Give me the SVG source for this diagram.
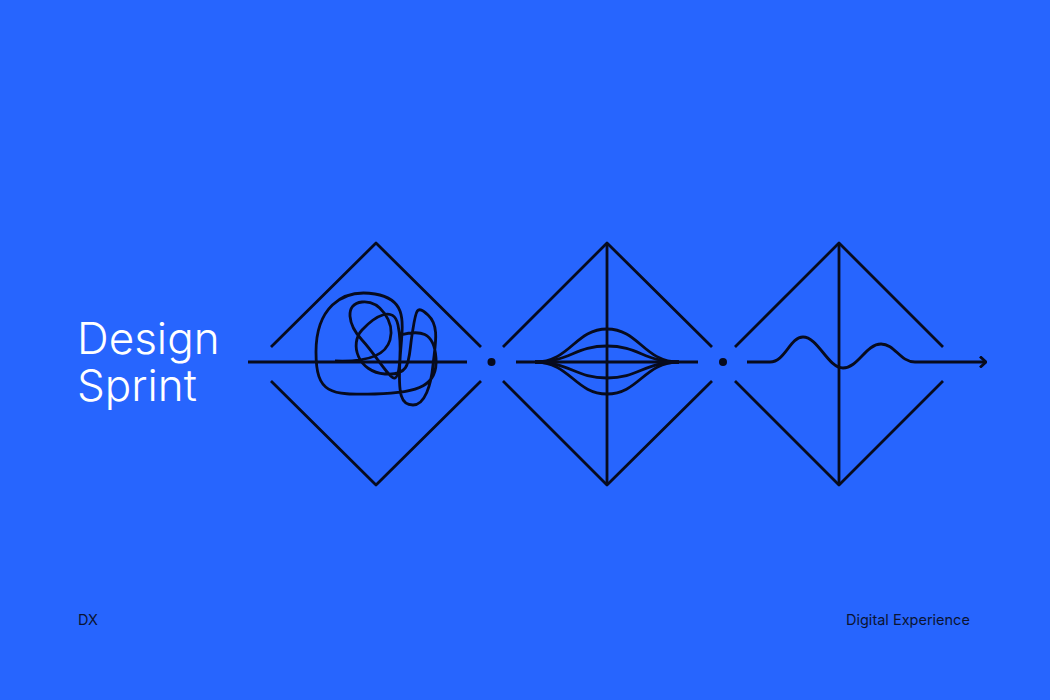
<svg xmlns="http://www.w3.org/2000/svg" width="1050" height="700" viewBox="0 0 1050 700">
  <style>
    .ln{fill:none;stroke:#070b1e;stroke-width:2.8;stroke-linecap:butt;stroke-linejoin:round}
    .dot{fill:#070b1e}
    .title{font-family:Inter,"Liberation Sans",sans-serif;font-weight:300;font-size:44px;fill:#ffffff}
    .foot{font-family:Inter,"Liberation Sans",sans-serif;font-weight:400;font-size:14.5px;fill:#0b1433}
  </style>
  <defs>
    <marker id="arrow" viewBox="0 0 10 12" refX="9" refY="6" markerWidth="10" markerHeight="12" markerUnits="userSpaceOnUse" orient="auto">
      <path d="M3 0.5 L9 6 L3 11.5" fill="none" stroke="#070b1e" stroke-width="2.8"/>
    </marker>
  </defs>
  <rect width="1050" height="700" fill="#2765fe"/>

  <g id="title">
    <text class="title"><tspan x="77" y="354">Design</tspan><tspan x="77" y="401">Sprint</tspan></text>
  </g>

  <g id="diamond1">
    <polyline class="ln" points="271,347 376,243 481,347"/>
    <polyline class="ln" points="271,381 376,485 481,381"/>
    <path class="ln" d="M335 361 C360 362, 385 358, 390 340 S380 300, 362 302 S348 325, 362 340 S390 380, 395 378 S402 345, 398 325 S375 316, 362 330 S358 372, 385 374 S408 360, 412 335 S416 304, 428 315 S435 345, 433 365 S425 405, 413 405 S398 395, 400 360 S410 300, 375 294 S316 310, 316 352 S330 395, 375 394 S438 385, 436 358 S420 330, 400 335"/>
  </g>

  <g id="diamond2">
    <polyline class="ln" points="503,347 607,243 712,347"/>
    <polyline class="ln" points="503,381 607,485 712,381"/>
    <line class="ln" x1="607" y1="243" x2="607" y2="485"/>
    <path class="ln" d="M535 362 C570 362, 575 329, 607 329 C639 329, 644 362, 679 362"/>
    <path class="ln" d="M535 362 C570 362, 575 346, 607 346 C639 346, 644 362, 679 362"/>
    <path class="ln" d="M535 362 C570 362, 575 378, 607 378 C639 378, 644 362, 679 362"/>
    <path class="ln" d="M535 362 C570 362, 575 394, 607 394 C639 394, 644 362, 679 362"/>
  </g>

  <g id="diamond3">
    <polyline class="ln" points="735,347 839,243 943,347"/>
    <polyline class="ln" points="735,381 839,485 943,381"/>
    <line class="ln" x1="839" y1="243" x2="839" y2="485"/>
  </g>

  <g id="connectors">
    <line class="ln" x1="248" y1="362" x2="467" y2="362"/>
    <circle class="dot" cx="491.5" cy="362" r="4"/>
    <line class="ln" x1="516" y1="362" x2="698" y2="362"/>
    <circle class="dot" cx="723" cy="362" r="4"/>
    <path class="ln" marker-end="url(#arrow)" d="M747 362 L770 362 C785 362, 790 337, 803 337 C818 337, 828 368, 843 368 C858 368, 866 344, 881 344 C895 344, 900 362, 915 362 L986 362"/>
  </g>

  <g id="footer">
    <text class="foot" x="78" y="625">DX</text>
    <text class="foot" x="846" y="625">Digital Experience</text>
  </g>
</svg>
